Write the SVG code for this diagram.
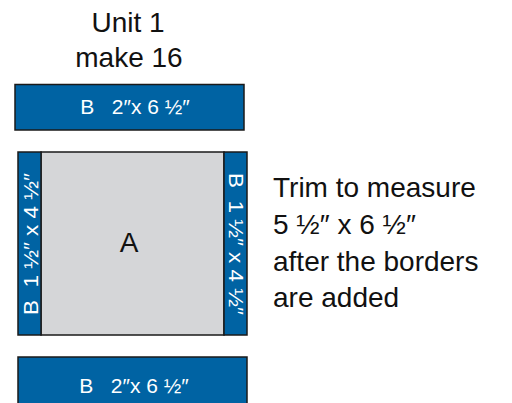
<svg xmlns="http://www.w3.org/2000/svg" width="512" height="403" viewBox="0 0 512 403">
<style>
.blue{fill:#0063a3;stroke:#1a1a1a;stroke-width:1.5}
.gray{fill:#d5d6d8;stroke:#1a1a1a;stroke-width:1.5}
.w{fill:#fff;font-family:"Liberation Sans",Arial,sans-serif;font-size:21px}
.k{fill:#111;font-family:"Liberation Sans",Arial,sans-serif;font-size:28px}
</style>
<rect width="512" height="403" fill="#fff"/>
<g id="title">
<text class="k" x="128" y="32" text-anchor="middle" font-size="29">Unit 1</text>
<text class="k" x="129" y="67" text-anchor="middle" font-size="29">make 16</text>
</g>
<g id="top-bar">
<rect class="blue" x="15" y="84.5" width="229" height="45.5"/>
<text class="w" x="135" y="114" text-anchor="middle" xml:space="preserve">B   2″x 6 ½″</text>
</g>
<g id="block">
<rect class="gray" x="41" y="152" width="183" height="183"/>
<text class="k" x="129" y="252" text-anchor="middle" font-size="29">A</text>
</g>
<g id="left-strip">
<rect class="blue" x="18" y="152" width="23" height="183"/>
<text class="w" transform="translate(30,244) rotate(-90)" text-anchor="middle" dominant-baseline="central" font-size="21" textLength="142" lengthAdjust="spacingAndGlyphs" xml:space="preserve">B  1 ½″ x 4 ½″</text>
</g>
<g id="right-strip">
<rect class="blue" x="224" y="152" width="23" height="183"/>
<text class="w" transform="translate(236,244) rotate(90)" text-anchor="middle" dominant-baseline="central" font-size="21" textLength="142" lengthAdjust="spacingAndGlyphs" xml:space="preserve">B  1 ½″ x 4 ½″</text>
</g>
<g id="bottom-bar">
<rect class="blue" x="18" y="357" width="229" height="48"/>
<text class="w" x="134" y="393" text-anchor="middle" xml:space="preserve">B   2″x 6 ½″</text>
</g>
<g id="note">
<text class="k" x="273" y="197">Trim to measure</text>
<text class="k" x="273" y="234">5 ½″ x 6 ½″</text>
<text class="k" x="273" y="271">after the borders</text>
<text class="k" x="273" y="307">are added</text>
</g>
<g id="connectors"></g>
</svg>
